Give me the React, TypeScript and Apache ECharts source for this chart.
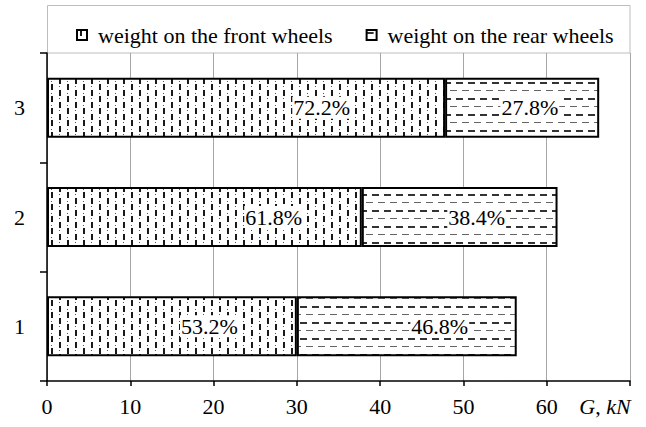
import React, { useEffect, useRef } from 'react';
import * as echarts from 'echarts';

const categories = ['1', '2', '3'];
const seriesNames = ['weight on the front wheels', 'weight on the rear wheels'];
const frontWeight = [30.0, 37.8, 47.8];
const rearWeight = [26.4, 23.5, 18.5];
const frontLabels = ['53.2%', '61.8%', '72.2%'];
const rearLabels = ['46.8%', '38.4%', '27.8%'];
const xMin = 0;
const xMax = 70;
const xStep = 10;
const axisTitleParts = ['G', ', ', 'kN'];

// label placement inside each bar segment (fraction of segment width)
const frontLabelFrac = [0.65, 0.72, 0.69];
const rearLabelFrac = [0.65, 0.587, 0.55];

const FONT = 'Liberation Serif';

function makeFrontPattern(): HTMLCanvasElement {
  const c = document.createElement('canvas');
  c.width = 16;
  c.height = 12;
  const g = c.getContext('2d')!;
  g.fillStyle = '#ffffff';
  g.fillRect(0, 0, 16, 12);
  g.fillStyle = '#1a1a1a';
  g.fillRect(3, 0, 2, 6);
  g.fillRect(11, 6, 2, 6);
  g.fillStyle = '#555555';
  g.fillRect(3, 9, 1, 1);
  g.fillRect(11, 2, 1, 1);
  return c;
}

function makeRearPattern(): HTMLCanvasElement {
  const c = document.createElement('canvas');
  c.width = 12;
  c.height = 16;
  const g = c.getContext('2d')!;
  g.fillStyle = '#ffffff';
  g.fillRect(0, 0, 12, 16);
  g.fillStyle = '#333333';
  g.fillRect(0, 2, 7, 2);
  g.fillStyle = '#666666';
  g.fillRect(6, 10, 6, 1);
  g.fillRect(0, 10, 1, 1);
  return c;
}

export default function App() {
  const ref = useRef<HTMLDivElement>(null);

  useEffect(() => {
    if (!ref.current) return;
    const chart = echarts.init(ref.current, undefined, { renderer: 'svg' });
    const frontPat = makeFrontPattern();
    const rearPat = makeRearPattern();

    const labelBase = {
      show: true,
      fontSize: 22,
      fontFamily: FONT,
      color: '#000',
      backgroundColor: '#fff',
      padding: [0, 1, 0, 1],
      align: 'center',
      verticalAlign: 'middle',
    };

    const option: any = {
      animation: false,
      backgroundColor: '#fff',
      textStyle: { fontFamily: FONT },
      graphic: [
        {
          type: 'rect',
          shape: { x: 47.5, y: 5.5, width: 582.5, height: 47.5 },
          style: { fill: 'none', stroke: '#bdbdbd', lineWidth: 1 },
          silent: true,
        },
      ],
      legend: {
        left: 71,
        top: 19,
        itemWidth: 10,
        itemHeight: 10,
        itemGap: 33,
        icon: 'rect',
        selectedMode: false,
        textStyle: { fontSize: 22, fontFamily: FONT, color: '#000', padding: [0, 0, 0, 6] },
        data: seriesNames,
      },
      grid: { left: 47, right: 16, top: 53, bottom: 46, containLabel: false, outerBoundsMode: 'none' },
      xAxis: {
        type: 'value',
        min: xMin,
        max: xMax,
        interval: xStep,
        axisLine: { show: true, lineStyle: { color: '#000', width: 1.5 } },
        axisTick: { show: true, length: 5, lineStyle: { color: '#000', width: 1.5 } },
        splitLine: { show: true, lineStyle: { color: '#a6a6a6', width: 1 } },
        axisLabel: {
          fontSize: 22,
          fontFamily: FONT,
          color: '#000',
          margin: 14,
          formatter: (v: number) =>
            v === xMax
              ? `{i|${axisTitleParts[0]}}{n|${axisTitleParts[1]}}{i|${axisTitleParts[2]}}{p|}`
              : String(v),
          rich: {
            i: { fontSize: 22, fontFamily: FONT, fontStyle: 'italic', color: '#000' },
            n: { fontSize: 22, fontFamily: FONT, color: '#000' },
            p: { width: 50 },
          },
        },
      },
      yAxis: {
        type: 'category',
        data: categories,
        axisLine: { show: true, lineStyle: { color: '#000', width: 1.5 } },
        axisTick: { show: true, length: 7, lineStyle: { color: '#000', width: 1.5 } },
        splitLine: { show: false },
        axisLabel: { fontSize: 22, fontFamily: FONT, color: '#000', margin: 22 },
      },
      series: [
        {
          name: seriesNames[0],
          type: 'bar',
          stack: 'w',
          barWidth: 60,
          silent: true,
          itemStyle: { color: { image: frontPat, repeat: 'repeat' }, borderColor: '#000', borderWidth: 2 },
          label: { ...labelBase, formatter: (p: any) => frontLabels[p.dataIndex] },
          emphasis: { disabled: true },
          data: frontWeight.map((v, i) => ({
            value: v,
            label: { position: [`${frontLabelFrac[i] * 100}%`, '50%'] },
          })),
        },
        {
          name: seriesNames[1],
          type: 'bar',
          stack: 'w',
          barWidth: 60,
          silent: true,
          itemStyle: { color: { image: rearPat, repeat: 'repeat' }, borderColor: '#000', borderWidth: 2 },
          label: { ...labelBase, formatter: (p: any) => rearLabels[p.dataIndex] },
          emphasis: { disabled: true },
          data: rearWeight.map((v, i) => ({
            value: v,
            label: { position: [`${rearLabelFrac[i] * 100}%`, '50%'] },
          })),
        },
      ],
    };

    chart.setOption(option);
    return () => chart.dispose();
  }, []);

  return (
    <div
      ref={ref}
      style={{ position: 'fixed', left: 0, top: 0, width: 646, height: 427, background: '#fff' }}
    />
  );
}
